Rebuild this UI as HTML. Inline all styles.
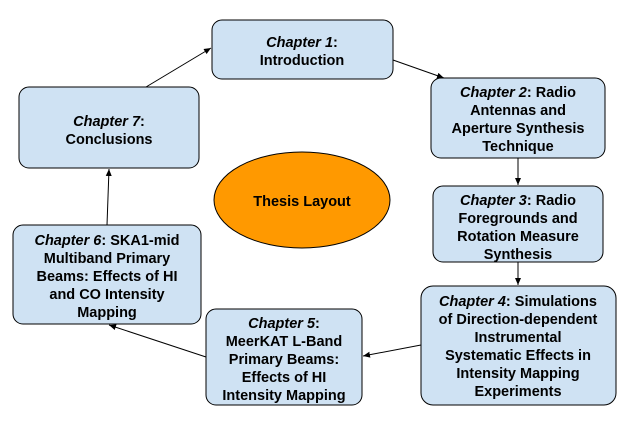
<!DOCTYPE html>
<html><head><style>
html,body{margin:0;padding:0;background:#fff;}
svg{display:block;}
text{font-family:"Liberation Sans",Arial,sans-serif;font-weight:bold;font-size:14.5px;fill:#000;}
</style></head><body>
<svg width="628" height="422" viewBox="0 0 628 422" xmlns="http://www.w3.org/2000/svg">
<defs>
<marker id="a" markerWidth="8" markerHeight="8" refX="7" refY="4" orient="auto" markerUnits="userSpaceOnUse">
<path d="M0,1 L7,4 L0,7 z" fill="#000"/>
</marker>
</defs>
<g fill="#cfe2f3" stroke="#000" stroke-width="1">
<rect x="212" y="20" width="181" height="59" rx="10"/>
<rect x="431" y="78" width="174" height="80" rx="10"/>
<rect x="433" y="186" width="170" height="76" rx="10"/>
<rect x="421" y="286" width="195" height="119" rx="12"/>
<rect x="206" y="309" width="156" height="96" rx="10"/>
<rect x="13" y="225" width="188" height="99" rx="10"/>
<rect x="19" y="87" width="180" height="81" rx="10"/>
</g>
<ellipse cx="302" cy="200" rx="88" ry="48" fill="#ff9900" stroke="#000"/>
<g stroke="#000" stroke-width="1" fill="none" marker-end="url(#a)">
<line x1="146" y1="87" x2="211" y2="48"/>
<line x1="393" y1="60" x2="444" y2="78"/>
<line x1="518" y1="158" x2="518" y2="185"/>
<line x1="518" y1="262" x2="518" y2="285"/>
<line x1="421" y1="345" x2="363" y2="356"/>
<line x1="206" y1="357" x2="109" y2="325"/>
<line x1="107" y1="225" x2="109" y2="169"/>
</g>
<g text-anchor="middle">
<text x="302" y="47"><tspan font-style="italic">Chapter 1</tspan>:</text>
<text x="302" y="65">Introduction</text>

<text x="518" y="97"><tspan font-style="italic">Chapter 2</tspan>: Radio</text>
<text x="518" y="115">Antennas and</text>
<text x="518" y="133">Aperture Synthesis</text>
<text x="518" y="151">Technique</text>

<text x="518" y="205"><tspan font-style="italic">Chapter 3</tspan>: Radio</text>
<text x="518" y="223">Foregrounds and</text>
<text x="518" y="241">Rotation Measure</text>
<text x="518" y="259">Synthesis</text>

<text x="518" y="306"><tspan font-style="italic">Chapter 4</tspan>: Simulations</text>
<text x="518" y="324">of Direction-dependent</text>
<text x="518" y="342">Instrumental</text>
<text x="518" y="360">Systematic Effects in</text>
<text x="518" y="378">Intensity Mapping</text>
<text x="518" y="396">Experiments</text>

<text x="284" y="328"><tspan font-style="italic">Chapter 5</tspan>:</text>
<text x="284" y="346">MeerKAT L-Band</text>
<text x="284" y="364">Primary Beams:</text>
<text x="284" y="382">Effects of HI</text>
<text x="284" y="400">Intensity Mapping</text>

<text x="107" y="245"><tspan font-style="italic">Chapter 6</tspan>: SKA1-mid</text>
<text x="107" y="263">Multiband Primary</text>
<text x="107" y="281">Beams: Effects of HI</text>
<text x="107" y="299">and CO Intensity</text>
<text x="107" y="317">Mapping</text>

<text x="109" y="126"><tspan font-style="italic">Chapter 7</tspan>:</text>
<text x="109" y="144">Conclusions</text>

<text x="302" y="206">Thesis Layout</text>
</g>
</svg>
</body></html>
